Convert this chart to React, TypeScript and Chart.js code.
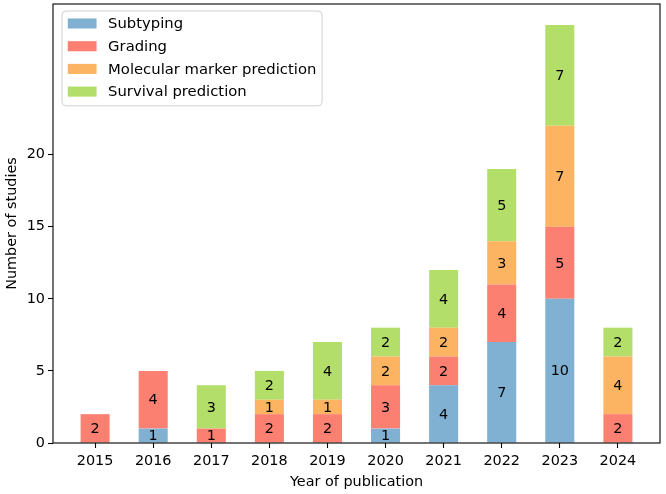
import React, { useEffect, useRef } from 'react';
import { Chart, registerables } from 'chart.js';

Chart.register(...registerables);

const years = [2015, 2016, 2017, 2018, 2019, 2020, 2021, 2022, 2023, 2024];
const subtyping = [0, 1, 0, 0, 0, 1, 4, 7, 10, 0];
const grading = [2, 4, 1, 2, 2, 3, 2, 4, 5, 2];
const molecular = [0, 0, 0, 1, 1, 2, 2, 3, 7, 4];
const survival = [0, 0, 3, 2, 4, 2, 4, 5, 7, 2];
const seriesNames = ['Subtyping', 'Grading', 'Molecular marker prediction', 'Survival prediction'];
const seriesColors = ['#80b1d3', '#fb8072', '#fdb462', '#b3de69'];
const yTicks = [0, 5, 10, 15, 20];
const xTitle = 'Year of publication';
const yTitle = 'Number of studies';

const FONT = '"DejaVu Sans", sans-serif';
const FS = 14.4;
const LFS = 14.8;

const barLabels = {
  id: 'barLabels',
  afterDatasetsDraw(chart: any) {
    const ctx = chart.ctx;
    ctx.save();
    ctx.font = `${FS}px ${FONT}`;
    ctx.fillStyle = '#000';
    ctx.textAlign = 'center';
    ctx.textBaseline = 'middle';
    chart.data.datasets.forEach((ds: any, di: number) => {
      const meta = chart.getDatasetMeta(di);
      meta.data.forEach((el: any, i: number) => {
        const v = ds.data[i].y;
        if (!v) return;
        const p = el.getProps(['x', 'y', 'base'], true);
        ctx.fillText(String(v), p.x, (p.y + p.base) / 2 + 1);
      });
    });
    ctx.restore();
  },
};

const frameAndLegend = {
  id: 'frameAndLegend',
  afterDraw(chart: any) {
    const ctx = chart.ctx;
    const a = chart.chartArea;
    ctx.save();
    ctx.strokeStyle = '#000';
    ctx.lineWidth = 1.1;
    ctx.strokeRect(a.left, a.top, a.right - a.left, a.bottom - a.top);

    // legend
    ctx.font = `${LFS}px ${FONT}`;
    const pad = 0.4 * FS;
    const handleLen = 2 * FS;
    const handleH = 0.7 * FS;
    const textPad = 0.8 * FS;
    const rowH = 22.7;
    let maxW = 0;
    seriesNames.forEach((n) => { maxW = Math.max(maxW, ctx.measureText(n).width); });
    const bx = a.left + 9;
    const by = a.top + 7;
    const bw = pad + handleLen + textPad + maxW + pad;
    const bh = rowH * seriesNames.length + 4;
    const r = 4;
    ctx.beginPath();
    ctx.moveTo(bx + r, by);
    ctx.lineTo(bx + bw - r, by);
    ctx.arcTo(bx + bw, by, bx + bw, by + r, r);
    ctx.lineTo(bx + bw, by + bh - r);
    ctx.arcTo(bx + bw, by + bh, bx + bw - r, by + bh, r);
    ctx.lineTo(bx + r, by + bh);
    ctx.arcTo(bx, by + bh, bx, by + bh - r, r);
    ctx.lineTo(bx, by + r);
    ctx.arcTo(bx, by, bx + r, by, r);
    ctx.closePath();
    ctx.fillStyle = 'rgba(255,255,255,0.8)';
    ctx.fill();
    ctx.strokeStyle = '#d0d0d0';
    ctx.lineWidth = 1;
    ctx.stroke();

    ctx.textAlign = 'left';
    ctx.textBaseline = 'middle';
    seriesNames.forEach((n, i) => {
      const cy = by + 12.5 + i * rowH;
      ctx.fillStyle = seriesColors[i];
      ctx.fillRect(bx + pad, cy - handleH / 2, handleLen, handleH);
      ctx.fillStyle = '#000';
      ctx.fillText(n, bx + pad + handleLen + textPad, cy + 1);
    });
    ctx.restore();
  },
};

export default function App() {
  const ref = useRef<HTMLCanvasElement | null>(null);
  useEffect(() => {
    if (!ref.current) return;
    Chart.defaults.font.family = FONT;
    const series = [subtyping, grading, molecular, survival];
    const totals = years.map((_, i) => series.reduce((s, arr) => s + arr[i], 0));
    const yMax = Math.max(...totals) * 1.05;
    const xPad = 0.25 + (years.length - 1 + 0.5) * 0.05;
    const chart = new Chart(ref.current, {
      type: 'bar',
      data: {
        datasets: series.map((arr, si) => ({
          label: seriesNames[si],
          data: arr.map((v, i) => ({ x: years[i], y: v })),
          backgroundColor: seriesColors[si],
          borderWidth: 0,
          categoryPercentage: 0.5,
          barPercentage: 1,
        })),
      },
      options: {
        animation: false,
        responsive: true,
        maintainAspectRatio: false,
        layout: { padding: { left: 0, top: 4, right: 6, bottom: 0 } },
        plugins: { legend: { display: false }, tooltip: { enabled: false } },
        scales: {
          x: {
            type: 'linear',
            stacked: true,
            offset: false,
            min: years[0] - xPad,
            max: years[years.length - 1] + xPad,
            afterBuildTicks: (s: any) => { s.ticks = years.map((v) => ({ value: v })); },
            afterFit: (s: any) => { s.height = 51; s.paddingLeft = 0; s.paddingRight = 0; },
            ticks: {
              color: '#000',
              font: { size: FS, family: FONT },
              padding: 5,
              maxRotation: 0,
              autoSkip: false,
              callback: (v: any) => String(v),
            },
            grid: { display: true, offset: false, drawOnChartArea: false, drawTicks: true, tickLength: 5, tickColor: '#000', tickWidth: 1.1 },
            border: { display: false },
            title: { display: true, text: xTitle, color: '#000', font: { size: FS, family: FONT }, padding: { top: 0, bottom: 3 } },
          },
          y: {
            type: 'linear',
            stacked: true,
            min: 0,
            max: yMax,
            afterBuildTicks: (s: any) => { s.ticks = yTicks.map((v) => ({ value: v })); },
            afterFit: (s: any) => { s.width = 53; s.paddingTop = 0; s.paddingBottom = 0; },
            ticks: { color: '#000', font: { size: FS, family: FONT }, padding: 3 },
            grid: { display: true, drawOnChartArea: false, drawTicks: true, tickLength: 5, tickColor: '#000', tickWidth: 1.1 },
            border: { display: false },
            title: { display: true, text: yTitle, color: '#000', font: { size: FS, family: FONT }, padding: { top: 4, bottom: 2 } },
          },
        },
      },
      plugins: [barLabels, frameAndLegend],
    });
    return () => chart.destroy();
  }, []);
  return (
    <div style={{ position: 'fixed', left: 0, top: 0, width: 666, height: 494 }}>
      <canvas ref={ref} />
    </div>
  );
}
